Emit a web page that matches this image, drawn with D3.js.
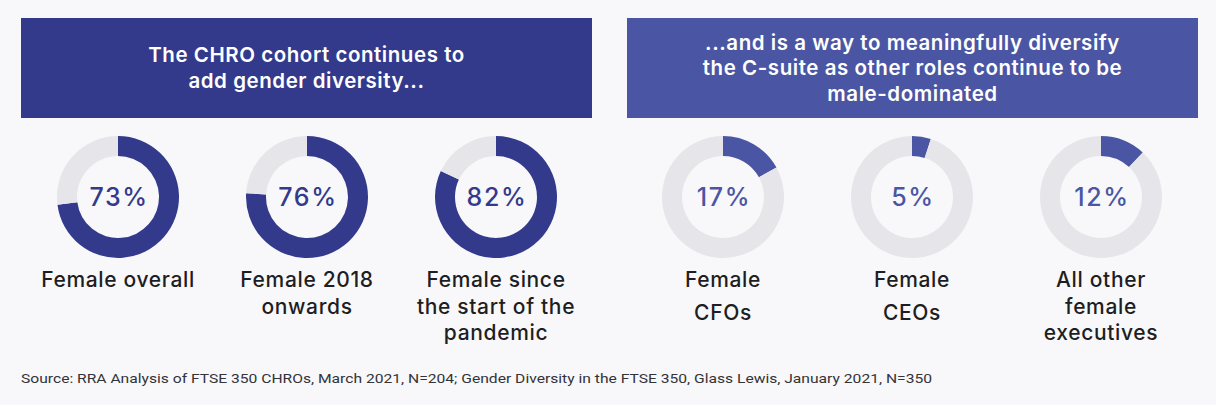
<!DOCTYPE html>
<html><head><meta charset="utf-8">
<script src="https://cdn.jsdelivr.net/npm/d3@7"></script>
<style>
html,body{margin:0;padding:0;background:#f8f8fb;}
svg{display:block;}
</style></head>
<body>
<svg id="chart" width="1216" height="405"></svg>
<script>
// ---- data ----
const panelTitles = [
  ["The CHRO cohort continues to", "add gender diversity..."],
  ["...and is a way to meaningfully diversify", "the C-suite as other roles continue to be", "male-dominated"]
];
const categories = [
  ["Female overall"],
  ["Female 2018", "onwards"],
  ["Female since", "the start of the", "pandemic"],
  ["Female", "CFOs"],
  ["Female", "CEOs"],
  ["All other", "female", "executives"]
];
const groups = [0, 0, 0, 1, 1, 1];
const femaleShare = [73, 76, 82, 17, 5, 12];
const sourceNote = "Source: RRA Analysis of FTSE 350 CHROs, March 2021, N=204; Gender Diversity in the FTSE 350, Glass Lewis, January 2021, N=350";

// ---- styles ----
const panelColors = ["#333a8c", "#4a56a3"];
const trackColor = "#e6e6ea";
const font = "Inter, 'Noto Sans', sans-serif";

const svg = d3.select("#chart");
svg.append("rect").attr("width", 1216).attr("height", 405).attr("fill", "#f8f8fb");

// panel layout
const panelX = d3.scaleOrdinal().domain([0, 1]).range([21, 627]);
const panelW = 571, panelTop = 18, panelH = 100;

const panels = svg.selectAll("g.panel").data(panelTitles).join("g")
  .attr("class", "panel")
  .attr("transform", (d, i) => `translate(${panelX(i)},${panelTop})`);
panels.append("rect").attr("width", panelW).attr("height", panelH)
  .attr("fill", (d, i) => panelColors[i]);
panels.each(function(lines) {
  const g = d3.select(this);
  const lh = 25.5;
  const y0 = panelH / 2 - (lines.length - 1) * lh / 2;
  g.selectAll("text").data(lines).join("text")
    .attr("x", panelW / 2)
    .attr("y", (d, j) => y0 + j * lh)
    .attr("dy", "0.35em")
    .attr("text-anchor", "middle")
    .attr("fill", "#ffffff")
    .attr("font-family", font)
    .attr("font-weight", 600)
    .attr("font-size", 20.5)
    .attr("letter-spacing", 0.55)
    .text(d => d);
});

// donut positions
const xDonut = d3.scalePoint().domain(d3.range(3)).range([118, 496]);
const offset = [0, 605];
const cy = 197, rOuter = 61, rInner = 41;

const pie = d3.pie().sort(null).value(d => d);
const arc = d3.arc().innerRadius(rInner).outerRadius(rOuter);

const donuts = svg.selectAll("g.donut").data(femaleShare).join("g")
  .attr("class", "donut")
  .attr("transform", (d, i) => `translate(${xDonut(i % 3) + offset[groups[i]]},${cy})`);

donuts.each(function(v, i) {
  const g = d3.select(this);
  const arcs = pie([v, 100 - v]);
  g.selectAll("path").data(arcs).join("path")
    .attr("d", arc)
    .attr("fill", (d, j) => j === 0 ? panelColors[groups[i]] : trackColor);
  g.append("text")
    .attr("x", 1)
    .attr("y", 0).attr("dy", "0.35em")
    .attr("text-anchor", "middle")
    .attr("fill", panelColors[groups[i]])
    .attr("font-family", font)
    .attr("font-weight", 500)
    .attr("font-size", 25)
    .attr("letter-spacing", 1.6)
    .text(v + "%");
  const lines = categories[i];
  const lh = (groups[i] === 1 && lines.length === 2) ? 33 : 26.5;
  g.selectAll("text.lab").data(lines).join("text")
    .attr("class", "lab")
    .attr("y", (d, j) => 83 + j * lh)
    .attr("dy", "0.35em")
    .attr("text-anchor", "middle")
    .attr("fill", "#1e1e22")
    .attr("font-family", font)
    .attr("font-weight", 500)
    .attr("font-size", 21)
    .attr("letter-spacing", 0.65)
    .text(d => d);
});

svg.append("text")
  .attr("x", 21).attr("y", 378).attr("dy", "0.35em")
  .attr("fill", "#333338")
  .attr("font-family", "'Liberation Sans Narrow', 'Roboto', sans-serif")
  .attr("font-size", 13.5)
  .attr("textLength", 911)
  .attr("lengthAdjust", "spacingAndGlyphs")
  .text(sourceNote);
</script>
</body></html>
